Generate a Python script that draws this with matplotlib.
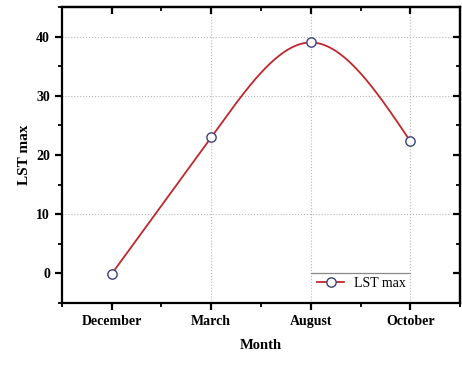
import numpy as np
import matplotlib.pyplot as plt
from matplotlib.ticker import MultipleLocator

months = ['December', 'March', 'August', 'October']
lst_max = [-0.1, 23.0, 39.0, 22.3]

plt.rcParams['font.family'] = 'Liberation Serif'


def smooth_line(x, y, n=300):
    # cubic Hermite line: flat at turning points, natural ends
    x = np.asarray(x, float)
    y = np.asarray(y, float)
    h = np.diff(x)
    delta = np.diff(y) / h
    k = len(x)
    d = np.zeros(k)
    for i in range(1, k - 1):
        if delta[i - 1] * delta[i] > 0:
            d[i] = delta[i - 1]
    d[0] = (3 * delta[0] - d[1]) / 2
    d[-1] = (3 * delta[-1] - d[-2]) / 2
    xs = np.linspace(x[0], x[-1], n)
    idx = np.clip(np.searchsorted(x, xs) - 1, 0, k - 2)
    t = (xs - x[idx]) / h[idx]
    hi = h[idx]
    h00 = 2 * t ** 3 - 3 * t ** 2 + 1
    h10 = t ** 3 - 2 * t ** 2 + t
    h01 = -2 * t ** 3 + 3 * t ** 2
    h11 = t ** 3 - t ** 2
    ys = h00 * y[idx] + h10 * hi * d[idx] + h01 * y[idx + 1] + h11 * hi * d[idx + 1]
    return xs, ys


xpos = np.arange(len(months))
xs, ys = smooth_line(xpos, lst_max)

line_col = '#c0272d'
mark_col = '#3b4178'

fig = plt.figure(figsize=(4.62, 3.65), dpi=100)
ax = fig.add_axes([0.134, 0.170, 0.862, 0.811])

# dotted reference lines
for yv in [10, 30, 40]:
    ax.axhline(yv, ls=':', color='#b8b8b8', lw=0.8, zorder=0)
for xv in [1, 2, 3]:
    ax.axvline(xv, ls=':', color='#b8b8b8', lw=0.8, zorder=0)

ax.plot(xs, ys, color=line_col, lw=1.3, zorder=2)
ax.plot(xpos, lst_max, ls='none', marker='o', ms=6.7, mfc='white',
        mec=mark_col, mew=1.0, zorder=3)
ax.plot([], [], color=line_col, lw=1.3, marker='o', ms=6.7, mfc='white',
        mec=mark_col, mew=1.0, label='LST max')

ax.set_xlim(-0.5, 3.5)
ax.set_ylim(-5, 45)
ax.set_xticks(xpos)
ax.set_xticklabels(months)
ax.xaxis.set_minor_locator(MultipleLocator(0.5))
ax.yaxis.set_major_locator(MultipleLocator(10))
ax.yaxis.set_minor_locator(MultipleLocator(5))

for s in ax.spines.values():
    s.set_linewidth(1.6)

ax.tick_params(which='major', direction='out', length=5, width=1.6,
               labelsize=10, top=False, right=False)
ax.tick_params(which='minor', direction='out', length=3, width=1.3,
               top=False, right=False)
for lab in ax.get_xticklabels() + ax.get_yticklabels():
    lab.set_fontweight('bold')

# inward ticks on the top and right edges
ax2 = ax.secondary_xaxis('top')
ax2.set_xticks(xpos)
ax2.xaxis.set_minor_locator(MultipleLocator(0.5))
ax2.tick_params(which='major', direction='in', length=5, width=1.6, labeltop=False)
ax2.tick_params(which='minor', direction='in', length=3, width=1.3)
ax2.spines['top'].set_linewidth(1.6)
ax3 = ax.secondary_yaxis('right')
ax3.yaxis.set_major_locator(MultipleLocator(10))
ax3.yaxis.set_minor_locator(MultipleLocator(5))
ax3.tick_params(which='major', direction='in', length=5, width=1.6, labelright=False)
ax3.tick_params(which='minor', direction='in', length=3, width=1.3)
ax3.spines['right'].set_linewidth(1.6)

ax.set_xlabel('Month', fontsize=10.5, fontweight='bold', labelpad=8)
ax.set_ylabel('LST max', fontsize=11, fontweight='bold', labelpad=4)

leg = ax.legend(loc='center', bbox_to_anchor=(0.752, 0.067), fontsize=10,
                frameon=False, handlelength=2.0, handletextpad=0.7,
                borderpad=0.2)
# top rule of the legend box
ax.plot([0.625, 0.875], [0.101, 0.101], transform=ax.transAxes,
        color='#888888', lw=0.9, zorder=1)

fig.savefig('out.png', dpi=100)
